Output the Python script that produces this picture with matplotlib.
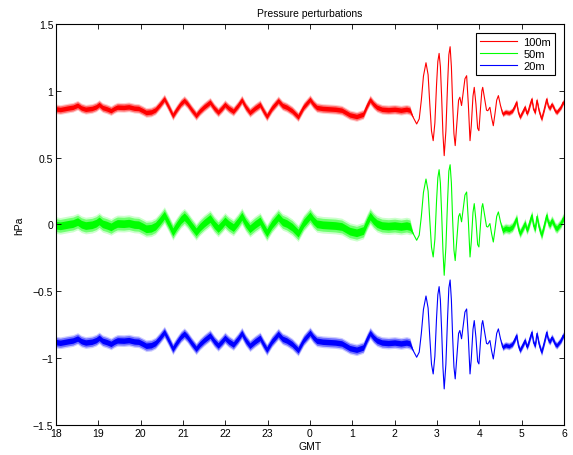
import numpy as np
import matplotlib
matplotlib.use('Agg')
import matplotlib.pyplot as plt

plt.rcParams['font.family'] = ['Liberation Sans', 'DejaVu Sans']

# time axis in hours from 18 GMT (values past 24 roll over to the next day)
hours = [
    18.00, 18.10, 18.20, 18.30, 18.40, 18.51, 18.60, 18.70, 18.85, 18.95,
    19.02, 19.10, 19.20, 19.30, 19.38, 19.45, 19.60, 19.72, 19.85, 19.95,
    20.05, 20.13, 20.25, 20.35, 20.45, 20.56, 20.66, 20.76, 20.85, 20.95,
    21.03, 21.10, 21.20, 21.31, 21.40, 21.50, 21.64, 21.74, 21.83, 21.92,
    21.99, 22.08, 22.19, 22.30, 22.39, 22.48, 22.58, 22.70, 22.82, 22.90,
    22.98, 23.10, 23.25, 23.35, 23.45, 23.58, 23.72, 23.85, 24.00, 24.08,
    24.16, 24.30, 24.45, 24.60, 24.75, 24.94, 25.10, 25.26, 25.35, 25.42,
    25.50, 25.58, 25.70, 25.85, 26.00, 26.15, 26.28, 26.36, 26.44, 26.52,
    26.58, 26.63, 26.68, 26.74, 26.79, 26.83, 26.87, 26.91, 26.95, 26.99,
    27.02, 27.05, 27.08, 27.11, 27.14, 27.17, 27.21, 27.25, 27.28, 27.31,
    27.34, 27.37, 27.40, 27.43, 27.47, 27.51, 27.54, 27.58, 27.62, 27.66,
    27.70, 27.74, 27.78, 27.81, 27.85, 27.88, 27.92, 27.96, 27.99, 28.03,
    28.06, 28.08, 28.12, 28.17, 28.20, 28.25, 28.29, 28.33, 28.37, 28.41,
    28.45, 28.50, 28.55, 28.62, 28.70, 28.78, 28.83, 28.88, 28.92, 28.96,
    29.02, 29.08, 29.12, 29.16, 29.20, 29.24, 29.28, 29.32, 29.36, 29.41,
    29.47, 29.53, 29.59, 29.63, 29.67, 29.71, 29.75, 29.79, 29.83, 29.88,
    29.93, 29.98, 30.00,
]

p100 = [
    0.865, 0.860, 0.866, 0.872, 0.877, 0.892, 0.872, 0.862, 0.868, 0.880,
    0.897, 0.875, 0.865, 0.852, 0.868, 0.878, 0.876, 0.880, 0.870, 0.868,
    0.852, 0.838, 0.842, 0.858, 0.895, 0.940, 0.880, 0.815, 0.860, 0.905,
    0.928, 0.905, 0.860, 0.815, 0.850, 0.880, 0.915, 0.870, 0.840, 0.870,
    0.897, 0.870, 0.847, 0.890, 0.932, 0.880, 0.838, 0.870, 0.897, 0.850,
    0.808, 0.870, 0.926, 0.890, 0.877, 0.850, 0.805, 0.880, 0.935, 0.900,
    0.875, 0.868, 0.865, 0.862, 0.855, 0.820, 0.808, 0.825, 0.890, 0.933,
    0.900, 0.877, 0.862, 0.858, 0.862, 0.855, 0.862, 0.855, 0.800, 0.752,
    0.790, 0.930, 1.110, 1.210, 1.120, 0.900, 0.700, 0.627, 0.760, 1.050,
    1.220, 1.280, 1.180, 0.950, 0.680, 0.515, 0.700, 1.050, 1.270, 1.330,
    1.180, 0.900, 0.680, 0.590, 0.760, 0.930, 0.952, 0.890, 0.990, 1.090,
    1.113, 0.900, 0.627, 0.740, 0.960, 1.026, 0.900, 0.720, 0.702, 0.880,
    1.000, 1.026, 0.950, 0.855, 0.851, 0.877, 0.800, 0.739, 0.830, 0.930,
    0.964, 0.890, 0.827, 0.842, 0.835, 0.850, 0.880, 0.916, 0.840, 0.804,
    0.840, 0.879, 0.830, 0.855, 0.900, 0.939, 0.860, 0.840, 0.930, 0.850,
    0.789, 0.860, 0.939, 0.880, 0.870, 0.900, 0.880, 0.850, 0.840, 0.860,
    0.880, 0.916, 0.900,
]

p50 = [
    -0.005, -0.010, -0.004, 0.002, 0.007, 0.022, 0.002, -0.008, -0.002, 0.010,
    0.027, 0.005, -0.005, -0.018, -0.002, 0.008, 0.006, 0.010, 0.000, -0.002,
    -0.018, -0.032, -0.028, -0.012, 0.025, 0.070, 0.010, -0.055, -0.010, 0.035,
    0.058, 0.035, -0.010, -0.055, -0.020, 0.010, 0.045, 0.000, -0.030, 0.000,
    0.027, 0.000, -0.023, 0.020, 0.062, 0.010, -0.032, 0.000, 0.027, -0.020,
    -0.062, 0.000, 0.056, 0.020, 0.007, -0.020, -0.065, 0.010, 0.065, 0.030,
    0.005, -0.002, -0.005, -0.008, -0.015, -0.050, -0.062, -0.045, 0.020, 0.063,
    0.030, 0.007, -0.008, -0.012, -0.008, -0.015, -0.008, -0.015, -0.070, -0.118,
    -0.080, 0.060, 0.240, 0.340, 0.250, 0.030, -0.170, -0.243, -0.110, 0.180,
    0.350, 0.410, 0.310, 0.080, -0.190, -0.380, -0.170, 0.180, 0.400, 0.447,
    0.310, 0.030, -0.190, -0.270, -0.110, 0.060, 0.082, 0.020, 0.120, 0.220,
    0.243, 0.030, -0.243, -0.130, 0.090, 0.156, 0.030, -0.150, -0.168, 0.010,
    0.130, 0.156, 0.080, -0.015, -0.019, 0.007, -0.070, -0.131, -0.040, 0.060,
    0.094, 0.020, -0.043, -0.028, -0.035, -0.020, 0.010, 0.046, -0.030, -0.066,
    -0.030, 0.009, -0.040, -0.015, 0.030, 0.069, -0.010, -0.030, 0.060, -0.020,
    -0.081, -0.010, 0.069, 0.010, 0.000, 0.030, 0.010, -0.020, -0.030, -0.010,
    0.010, 0.046, 0.030,
]

p20 = [
    -0.880, -0.885, -0.879, -0.873, -0.868, -0.853, -0.873, -0.883, -0.877, -0.865,
    -0.848, -0.870, -0.880, -0.893, -0.877, -0.867, -0.869, -0.865, -0.875, -0.877,
    -0.893, -0.907, -0.903, -0.887, -0.850, -0.805, -0.865, -0.930, -0.885, -0.840,
    -0.817, -0.840, -0.885, -0.930, -0.895, -0.865, -0.830, -0.875, -0.905, -0.875,
    -0.848, -0.875, -0.898, -0.855, -0.813, -0.865, -0.907, -0.875, -0.848, -0.895,
    -0.937, -0.875, -0.819, -0.855, -0.868, -0.895, -0.940, -0.865, -0.810, -0.845,
    -0.870, -0.877, -0.880, -0.883, -0.890, -0.925, -0.937, -0.920, -0.855, -0.812,
    -0.845, -0.868, -0.883, -0.887, -0.883, -0.890, -0.883, -0.890, -0.945, -0.993,
    -0.955, -0.815, -0.635, -0.535, -0.625, -0.845, -1.045, -1.118, -0.985, -0.695,
    -0.525, -0.465, -0.565, -0.795, -1.065, -1.230, -1.045, -0.695, -0.475, -0.415,
    -0.565, -0.845, -1.065, -1.155, -0.985, -0.815, -0.793, -0.855, -0.755, -0.655,
    -0.632, -0.845, -1.118, -1.005, -0.785, -0.719, -0.845, -1.025, -1.043, -0.865,
    -0.745, -0.719, -0.795, -0.890, -0.894, -0.868, -0.945, -1.006, -0.915, -0.815,
    -0.781, -0.855, -0.918, -0.903, -0.910, -0.895, -0.865, -0.829, -0.905, -0.941,
    -0.905, -0.866, -0.915, -0.890, -0.845, -0.806, -0.885, -0.905, -0.815, -0.895,
    -0.956, -0.885, -0.806, -0.865, -0.875, -0.845, -0.865, -0.895, -0.905, -0.885,
    -0.865, -0.829, -0.845,
]

labels = ['100m', '50m', '20m']
colors = ['#ff0000', '#00ff00', '#0000ff']
# half-width of the high-frequency noise band: before the wave train / after it
noise_before = [0.028, 0.048, 0.034]
noise_after = [0.018, 0.030, 0.022]


xticks = [18, 19, 20, 21, 22, 23, 24, 25, 26, 27, 28, 29, 30]
xticklabels = ['18', '19', '20', '21', '22', '23', '0', '1', '2', '3', '4', '5', '6']
yticks = [-1.5, -1, -0.5, 0, 0.5, 1, 1.5]


def main():
	fig = plt.figure(figsize=(5.73, 4.56), dpi=100)
	ax = fig.add_axes([0.0977, 0.0658, 0.8866, 0.8794])

	t = np.array(hours)
	for vals, lab, col, nb, na in zip([p100, p50, p20], labels, colors, noise_before, noise_after):
		v = np.array(vals)
		half = np.where(t < 26.4, nb, np.where(t > 28.5, na, 0.0))
		# soft outer fringe, then the dense core of the noise band
		ax.fill_between(t, v - 1.3 * half, v + 1.3 * half, color=col, alpha=0.2, lw=0)
		ax.fill_between(t, v - half, v + half, color=col, alpha=0.45, lw=0)
		ax.fill_between(t, v - 0.6 * half, v + 0.6 * half, color=col, lw=0)
		ax.plot(t, v, color=col, lw=0.8, label=lab)

	ax.set_xlim(18, 30)
	ax.set_ylim(-1.5, 1.5)
	ax.set_xticks(xticks)
	ax.set_xticklabels(xticklabels)
	ax.set_yticks(yticks)
	ax.set_yticklabels(['\u22121.5', '\u22121', '\u22120.5', '0', '0.5', '1', '1.5'])
	ax.tick_params(direction='in', top=True, right=True, length=3.5, width=0.6,
				   labelsize=7.5, pad=2)
	for s in ax.spines.values():
		s.set_linewidth(0.8)

	ax.set_title('Pressure perturbations', fontsize=7.5, pad=6)
	ax.set_xlabel('GMT', fontsize=7.5, labelpad=2)
	ax.set_ylabel('hPa', fontsize=7.5, labelpad=6)

	leg = ax.legend(loc='upper right', bbox_to_anchor=(0.982, 0.978), borderaxespad=0,
					fontsize=8, fancybox=False, framealpha=1, edgecolor='black',
					handlelength=3.3, handletextpad=0.6, borderpad=0.35, labelspacing=0.2)
	leg.get_frame().set_linewidth(0.8)
	for line in leg.get_lines():
		line.set_linewidth(0.8)

	fig.savefig('out.png', dpi=100)


if __name__ == '__main__':
	main()
